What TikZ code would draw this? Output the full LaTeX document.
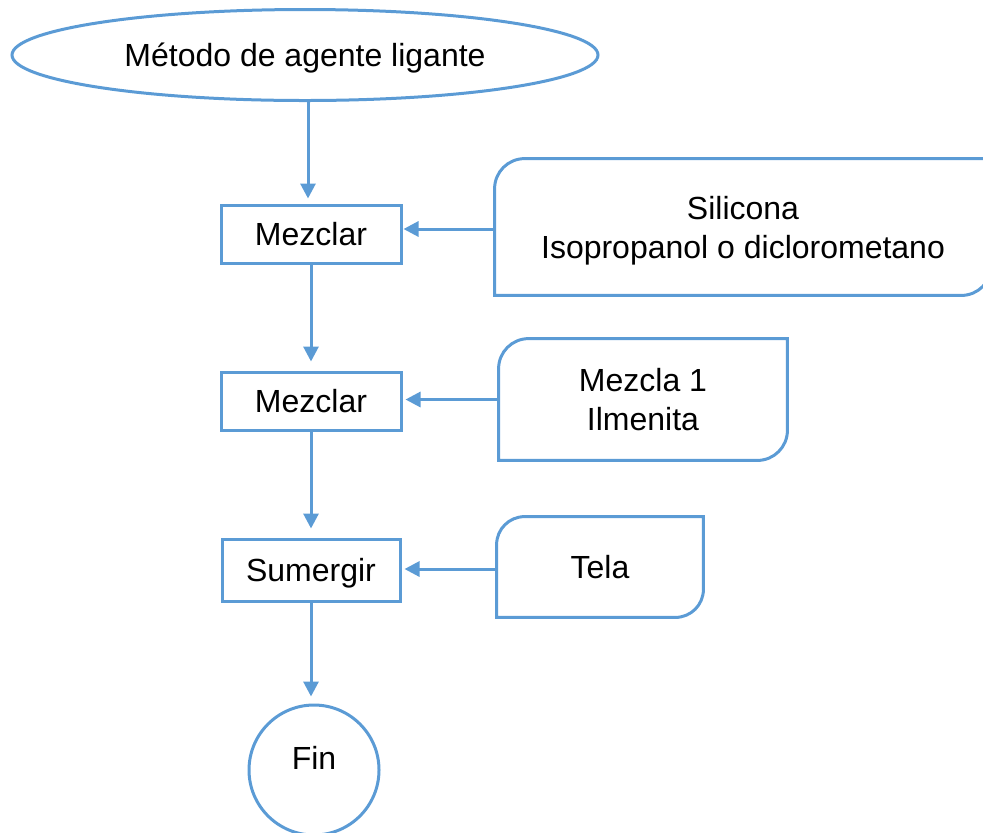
\documentclass[tikz,border=0pt]{standalone}
\usepackage{fontspec}
\setmainfont{Liberation Sans}
\usetikzlibrary{shapes.geometric,arrows.meta}
\definecolor{flowblue}{HTML}{5B9BD5}
% Data shape: rounded top-left and bottom-right corners
\newcommand\dataoutline[2]{%
  \draw[outline] (#1.south west) -- ([yshift=-#2]#1.north west)
    arc[start angle=180, end angle=90, radius=#2] -- (#1.north east)
    -- ([yshift=#2]#1.south east)
    arc[start angle=0, end angle=-90, radius=#2] -- cycle;}
\begin{document}
\begin{tikzpicture}[x=0.5pt, y=0.5pt,
  every node/.style={font=\fontsize{16pt}{19.5pt}\selectfont, text height=11.5pt, text depth=0pt},
  outline/.style={draw=flowblue, line width=1.5pt},
  process/.style={rectangle, outline, inner sep=0pt, minimum width=90pt, minimum height=29pt},
  databox/.style={rectangle, inner sep=0pt, align=center},
  twolines/.style={text height=31pt, text depth=0pt},
  link/.style={draw=flowblue, line width=1.5pt, -{Triangle[length=7.5pt, width=7.5pt]}}]
\useasboundingbox (0,0) rectangle (983,-832);
\clip (0,0) rectangle (983,-832);

% main column
\node[ellipse, outline, inner sep=0pt, minimum width=293pt, minimum height=45.5pt] (start) at (305,-55) {Método de agente ligante};
\node[process] (mix1) at (311,-234) {Mezclar};
\node[process] (mix2) at (311,-401) {Mezclar};
\node[process, minimum width=89pt, minimum height=31pt] (dip) at (311,-570) {Sumergir};
\node[circle, outline, inner sep=0pt, minimum size=65pt, text depth=12pt] (fin) at (314,-770) {Fin};

% inputs
\node[databox, twolines, minimum width=248pt, minimum height=68pt] (silic) at (743,-227) {Silicona\\Isopropanol o diclorometano};
\node[databox, twolines, minimum width=144pt, minimum height=60.5pt] (ilm) at (643,-399.5) {Mezcla 1\\Ilmenita};
\node[databox, minimum width=103pt, minimum height=50pt] (cloth) at (600,-567) {Tela};
\dataoutline{silic}{15pt}
\dataoutline{ilm}{15pt}
\dataoutline{cloth}{14pt}

% flow
\draw[link, shorten >=2.5pt] ([xshift=1.5pt]start.south) -- ([xshift=1.5pt]start.south |- mix1.north);
\draw[link, shorten >=4.5pt] (mix1.south) -- (mix1.south |- mix2.north);
\draw[link, shorten >=4.5pt] (mix2.south) -- (mix2.south |- dip.north);
\draw[link, shorten >=3.5pt] (dip.south) -- (dip.south |- fin.north);

\draw[link, shorten >=0.5pt] ([yshift=-1pt]silic.west) -- ([yshift=-1pt]silic.west -| mix1.east);
\draw[link, shorten >=1.5pt] (ilm.west) -- (ilm.west -| mix2.east);
\draw[link, shorten >=1.5pt] ([yshift=-1pt]cloth.west) -- ([yshift=-1pt]cloth.west -| dip.east);
\end{tikzpicture}
\end{document}
